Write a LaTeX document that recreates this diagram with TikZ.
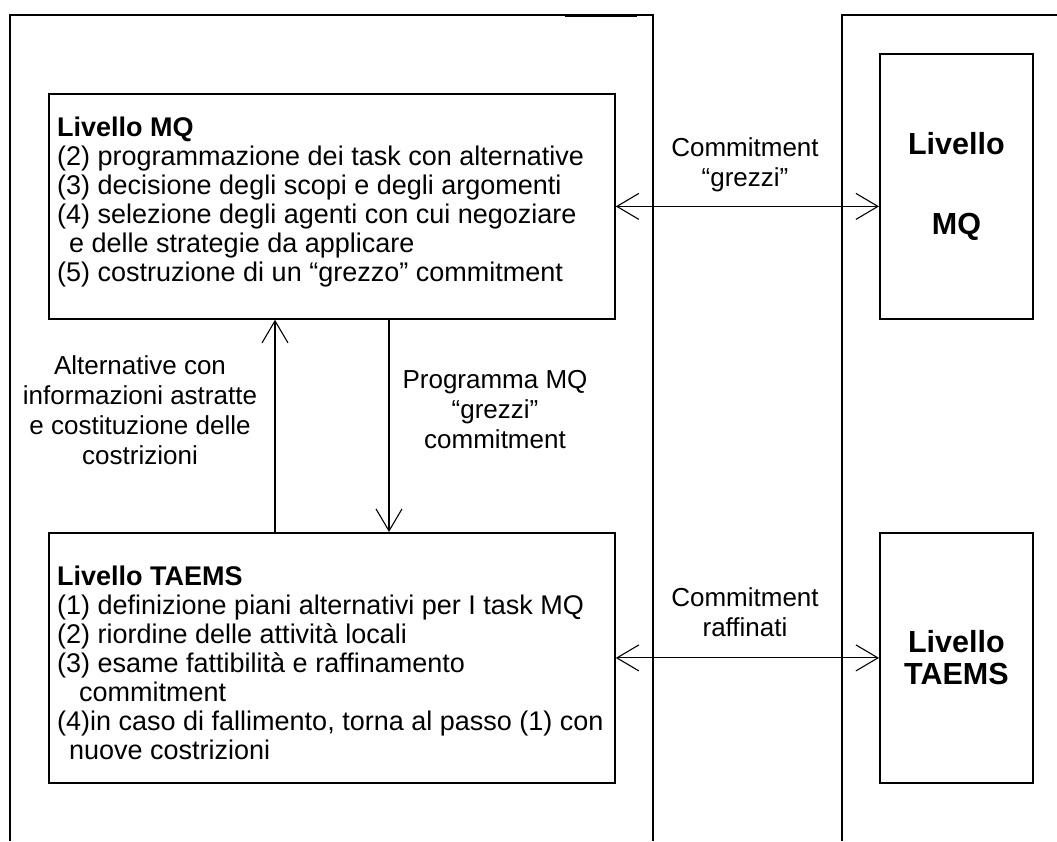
\documentclass[tikz,border=0pt]{standalone}
\usepackage{fontspec}
\setmainfont{Liberation Sans}
\usetikzlibrary{arrows.meta}
\begin{document}
\begin{tikzpicture}[x=1pt,y=-1pt,
  frame/.style={line width=1.6pt},
  box/.style={draw, line width=1.8pt, anchor=north west, inner sep=0pt},
  body/.style={font=\fontsize{27}{29}\selectfont},
  note/.style={font=\fontsize{26}{30}\selectfont, align=center},
  big/.style={font=\fontsize{30.5}{32}\selectfont\bfseries},
  tip/.tip={Straight Barb[length=22pt,width=26pt]},
  link/.style={line width=1.1pt, tip-tip},
  flow/.style={line width=1.1pt, -tip}]
\useasboundingbox (0,0) rectangle (1057,841);

% agent frames, open at the bottom
\draw[frame] (10,841) -- (10,15) -- (653,15) -- (653,841);
\draw[line width=2.6pt] (565,15.4) -- (637,15.4);
\draw[frame] (842,841) -- (842,15) -- (1057,15);

% left agent: the two levels
\node[box, minimum width=566pt, minimum height=225pt] (mq) at (48,93) {};
\node[body, align=left, anchor=west, inner sep=0pt] (mqtext) at (57,202)
  {\textbf{Livello MQ}\\
   (2) programmazione dei task con alternative\\
   (3) decisione degli scopi e degli argomenti\\
   (4) selezione degli agenti con cui negoziare\\
   \hspace*{12pt}e delle strategie da applicare\\
   (5) costruzione di un “grezzo” commitment};

\node[box, minimum width=566pt, minimum height=250pt] (taems) at (48,532) {};
\node[body, align=left, anchor=west, inner sep=0pt] (taemstext) at (57,663)
  {\textbf{Livello TAEMS}\\
   (1) definizione piani alternativi per I task MQ\\
   (2) riordine delle attività locali\\
   (3) esame fattibilità e raffinamento\\
   \hspace*{22pt}commitment\\
   (4)in caso di fallimento, torna al passo (1) con\\
   \hspace*{12pt}nuove costrizioni};

% right agent: the two levels
\node[box, big, align=center, minimum width=153pt, minimum height=265pt]
  (rmq) at (879,53) {Livello\\[48pt]MQ};
\node[box, big, align=center, minimum width=153pt, minimum height=250pt]
  (rtaems) at (879,532) {Livello\\TAEMS};

% exchanges between the agents
\draw[link] (mq.east) -- (mq.east -| rmq.west);
\draw[link] (taems.east) -- (taems.east -| rtaems.west);
\node[note] (lgrezzi) at (745,165) {Commitment\\“grezzi”};
\node[note] (lraff) at (745,612) {Commitment\\raffinati};

% exchanges between the levels
\coordinate (upx) at (275,0);
\coordinate (dnx) at (389,0);
\draw[flow] (taems.north -| upx) -- (mq.south -| upx);
\draw[flow] (mq.south -| dnx) -- (taems.north -| dnx);
\node[note] (lalt) at (140,410)
  {Alternative con\\informazioni astratte\\e costituzione delle\\costrizioni};
\node[note] (lprog) at (495,410)
  {Programma MQ\\“grezzi”\\commitment};
\end{tikzpicture}
\end{document}
